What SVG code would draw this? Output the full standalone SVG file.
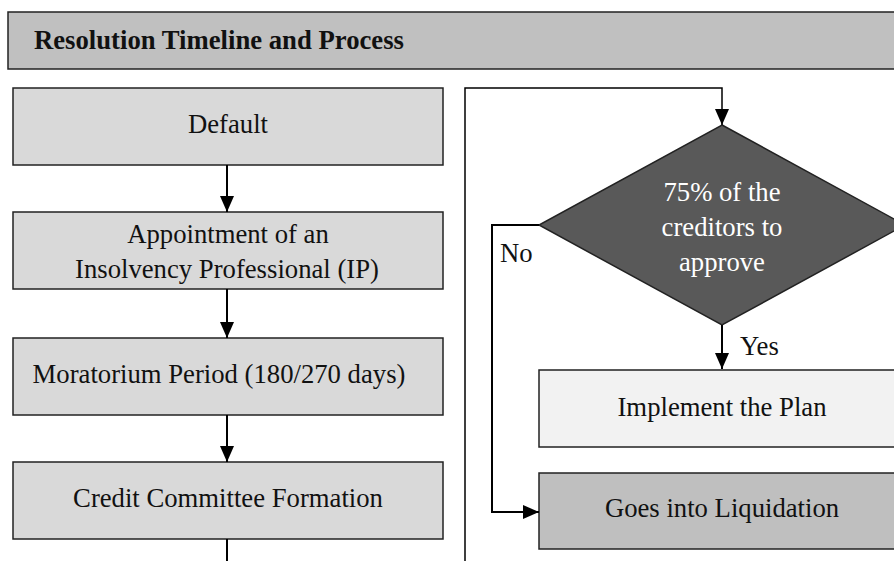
<svg xmlns="http://www.w3.org/2000/svg" width="894" height="561" viewBox="0 0 894 561">
<style>
  .box { stroke: #222; stroke-width: 1.5; }
  .t { font-size: 26.7px; fill: #111; }
  .c { text-anchor: middle; }
  .w { fill: #ffffff; }
  .ln { fill: none; stroke: #000; stroke-width: 2; }
  .thin { fill: none; stroke: #000; stroke-width: 1.5; }
</style>
<defs>
  <marker id="ah" markerUnits="userSpaceOnUse" markerWidth="16" markerHeight="16" viewBox="0 0 16 16" refX="16" refY="8" orient="auto">
    <path d="M0,1 L16,8 L0,15 Z" fill="#000"/>
  </marker>
</defs>
<rect width="894" height="561" fill="#ffffff"/>
<g font-family="'Liberation Serif', 'Times New Roman', 'DejaVu Serif', serif">

<g id="header">
  <rect class="box" x="8" y="12" width="900" height="57" fill="#c0c0c0"/>
  <text class="t" x="34" y="49" font-weight="bold" font-size="27.2">Resolution Timeline and Process</text>
</g>

<g id="default">
  <rect class="box" x="13" y="88" width="430" height="77" fill="#d9d9d9"/>
  <text class="t c" x="228" y="133">Default</text>
</g>

<g id="appointment">
  <rect class="box" x="13" y="212" width="430" height="77" fill="#d9d9d9"/>
  <text class="t c" x="228" y="243">Appointment of an</text>
  <text class="t c" x="227" y="278">Insolvency Professional (IP)</text>
</g>

<g id="moratorium">
  <rect class="box" x="13" y="338" width="430" height="77" fill="#d9d9d9"/>
  <text class="t c" x="219" y="383">Moratorium Period (180/270 days)</text>
</g>

<g id="committee">
  <rect class="box" x="13" y="462" width="430" height="77" fill="#d9d9d9"/>
  <text class="t c" x="228" y="507">Credit Committee Formation</text>
</g>

<g id="decision">
  <polygon class="box" points="722,125 905,225 722,325 539,225" fill="#595959"/>
  <text class="t c w" x="722" y="201">75% of the</text>
  <text class="t c w" x="722" y="236">creditors to</text>
  <text class="t c w" x="722" y="271">approve</text>
</g>

<g id="implement">
  <rect class="box" x="539" y="370" width="370" height="77" fill="#f2f2f2"/>
  <text class="t c" x="722" y="416">Implement the Plan</text>
</g>

<g id="liquidation">
  <rect class="box" x="539" y="473" width="370" height="76" fill="#bfbfbf"/>
  <text class="t c" x="722" y="517">Goes into Liquidation</text>
</g>

<g id="connectors">
  <line class="ln" x1="227" y1="165" x2="227" y2="212" marker-end="url(#ah)"/>
  <line class="ln" x1="227" y1="289" x2="227" y2="338" marker-end="url(#ah)"/>
  <line class="ln" x1="227" y1="415" x2="227" y2="462" marker-end="url(#ah)"/>
  <line class="ln" x1="227" y1="539" x2="227" y2="561"/>
  <polyline class="thin" points="465,561 465,88 722,88 722,125" marker-end="url(#ah)"/>
  <line class="ln" x1="722" y1="325" x2="722" y2="369" marker-end="url(#ah)"/>
  <polyline class="ln" points="539,225 492,225 492,512 539,512" marker-end="url(#ah)"/>
  <text class="t" x="500" y="262">No</text>
  <text class="t" x="740" y="355">Yes</text>
</g>
</g>
</svg>
